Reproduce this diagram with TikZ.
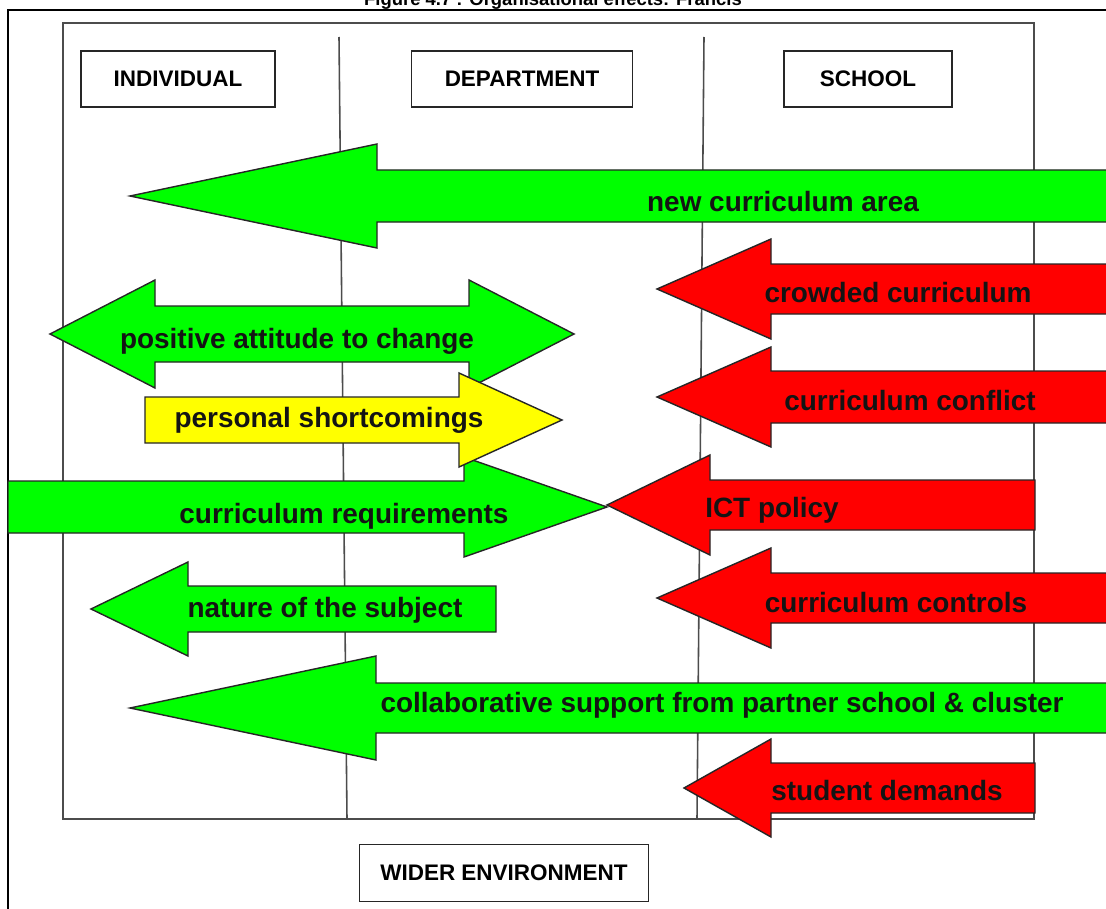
\documentclass[tikz,border=0pt]{standalone}
\usepackage{fontspec}
\setmainfont{Liberation Sans}
\definecolor{arrgreen}{RGB}{0,255,0}
\definecolor{arrred}{RGB}{255,0,0}
\definecolor{arryellow}{RGB}{255,255,0}
% block arrow: style, tip x, centre y, head-base x, head half-height, shaft half-height, tail x
\newcommand{\BlockArrow}[7]{%
  \draw[#1] (#2,#3) -- (#4,{#3-#5}) -- (#4,{#3-#6}) -- (#7,{#3-#6})
    -- (#7,{#3+#6}) -- (#4,{#3+#6}) -- (#4,{#3+#5}) -- cycle;}
\begin{document}
\begin{tikzpicture}[x=0.02cm,y=-0.02cm,
  outerline/.style={draw=black,line width=1.2pt},
  innerline/.style={draw=black!70,line width=0.9pt},
  headbox/.style={draw=black!85,line width=0.9pt,fill=white,minimum height=1.12cm,
    inner sep=0pt,font=\bfseries\fontsize{12.8pt}{15pt}\selectfont},
  titletext/.style={font=\bfseries\fontsize{10.5pt}{13pt}\selectfont,inner sep=0pt},
  arrowline/.style={draw=black!85,line width=0.8pt,line join=miter},
  greenarrow/.style={arrowline,fill=arrgreen},
  redarrow/.style={arrowline,fill=arrred},
  yellowarrow/.style={arrowline,fill=arryellow},
  lbl/.style={font=\bfseries\fontsize{15.9pt}{19pt}\selectfont,text=black!92,inner sep=0pt,anchor=base}
]
\useasboundingbox (0,0) rectangle (1106,909);
\begin{scope}
\clip (0,0) rectangle (1106,909);
\fill[white] (0,0) rectangle (1106,909);

% title (cut by the top edge)
\node[titletext,anchor=base] (title) at (553,5.5) {Figure 4.7 : Organisational effects: Francis};

% frames
\draw[outerline] (1130,10) -- (8,10) -- (8,930);
\draw[innerline] (63,23) rectangle (1034,819);
\draw[innerline] (339,37) -- (347,819);
\draw[innerline] (704,37) -- (697,819);

% level boxes
\node[headbox,minimum width=3.88cm] (individual) at (178,79) {INDIVIDUAL};
\node[headbox,minimum width=4.42cm] (department) at (522,79) {DEPARTMENT};
\node[headbox,minimum width=3.36cm] (school) at (868,79) {SCHOOL};
\node[headbox,minimum width=5.78cm,minimum height=1.14cm] (wider) at (504,873) {WIDER ENVIRONMENT};

% arrows
\BlockArrow{greenarrow}{130}{196}{377}{52}{26}{1130}
\node[lbl] (newcurr) at (783,212) {new curriculum area};

\BlockArrow{redarrow}{657}{289}{771}{50}{25}{1130}
\node[lbl] (crowded) at (898,302) {crowded curriculum};

\draw[greenarrow] (50,334) -- (155,280) -- (155,306) -- (469,306) -- (469,280) -- (574,334)
  -- (469,388) -- (469,362) -- (155,362) -- (155,388) -- cycle;
\node[lbl] (positive) at (297,348) {positive attitude to change};

\BlockArrow{redarrow}{657}{397}{771}{50}{26}{1130}
\node[lbl] (conflict) at (910,410) {curriculum conflict};

\BlockArrow{greenarrow}{607}{507}{464}{50}{26}{8}
\node[lbl] (requirements) at (344,523) {curriculum requirements};

\BlockArrow{yellowarrow}{562}{420}{459}{47}{23}{145}
\node[lbl] (shortcomings) at (329,427) {personal shortcomings};

\BlockArrow{redarrow}{607}{505}{710}{50}{25}{1035}
\node[lbl] (ict) at (772,517) {ICT policy};

\BlockArrow{greenarrow}{91}{609}{188}{47}{23}{496}
\node[lbl] (nature) at (325,617) {nature of the subject};

\BlockArrow{redarrow}{657}{598}{771}{50}{25}{1130}
\node[lbl] (controls) at (896,612) {curriculum controls};

\BlockArrow{greenarrow}{130}{708}{376}{52}{25}{1130}
\node[lbl] (collab) at (722,712) {collaborative support from partner school \& cluster};

\BlockArrow{redarrow}{684}{788}{771}{49}{25}{1035}
\node[lbl] (student) at (887,800) {student demands};
\end{scope}
\end{tikzpicture}
\end{document}
